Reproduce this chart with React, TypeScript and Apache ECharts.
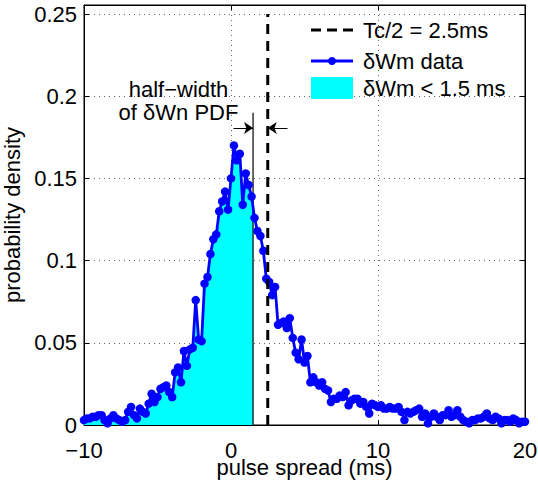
import React, { useEffect, useRef } from "react";
import * as echarts from "echarts";

// x grid of the PDF (ms): start and step of the sampled histogram
const X_START = -10;
const X_STEP = 0.2;
// δWm probability density values, one per bin
const PDF_VALUES = [
  0.003, 0.004, 0.004, 0.005, 0.005, 0.006, 0.006, 0.003, 0.001, 0.004,
  0.006, 0.004, 0.003, 0.002, 0.003, 0.008, 0.011, 0.006, 0.004, 0.010,
  0.008, 0.007, 0.013, 0.019, 0.014, 0.017, 0.022, 0.023, 0.024, 0.020,
  0.017, 0.032, 0.035, 0.026, 0.045, 0.036, 0.046, 0.047, 0.076, 0.052,
  0.051, 0.086, 0.090, 0.104, 0.113, 0.116, 0.130, 0.136, 0.142, 0.131,
  0.150, 0.170, 0.161, 0.165, 0.134, 0.153, 0.146, 0.139, 0.126, 0.118,
  0.115, 0.106, 0.089, 0.087, 0.079, 0.084, 0.061, 0.062, 0.063, 0.059,
  0.065, 0.053, 0.044, 0.040, 0.052, 0.038, 0.042, 0.026, 0.029, 0.026,
  0.024, 0.026, 0.022, 0.021, 0.014, 0.016, 0.016, 0.018, 0.017, 0.020,
  0.012, 0.015, 0.016, 0.016, 0.013, 0.014, 0.011, 0.007, 0.013, 0.012,
  0.011, 0.012, 0.010, 0.010, 0.011, 0.010, 0.010, 0.011, 0.008, 0.003,
  0.008, 0.007, 0.008, 0.009, 0.010, 0.005, 0.007, 0.001, 0.005, 0.007,
  0.005, 0.003, 0.006, 0.006, 0.009, 0.005, 0.006, 0.009, 0.005, 0.003,
  0.002, 0.001, 0.003, 0.003, 0.004, 0.004, 0.005, 0.007, 0.004, 0.003,
  0.005, 0.004, 0.001, 0.003, 0.003, 0.002, 0.004, 0.003, 0.001, 0.002,
  0.002,
];
const TC_HALF = 2.5; // dashed line position
const FILL_LIMIT = 1.5; // shaded region upper bound (half-width)
const HALFWIDTH_LINE_TOP = 0.19;
const DASH_TOP = 0.25;
const ARROW_Y = 0.1807;
const ARROW_LEFT_START = 0.17;
const ARROW_RIGHT_START = 3.84;
const ANNOT_X = -3.57;
const ANNOT_Y = 0.1968;
const ANNOT_TEXT = "half\u2212width\nof \u03b4Wn PDF";
const X_TICKS = [-10, 0, 10, 20];
const Y_MAX = 0.2555;
const X_NAME = "pulse spread (ms)";
const LEGEND_LABELS = ["Tc/2 = 2.5ms", "\u03b4Wm data", "\u03b4Wm < 1.5 ms"];

const FONT = "'Liberation Sans', Arial, Helvetica, sans-serif";

export default function App() {
  const ref = useRef<HTMLDivElement>(null);
  useEffect(() => {
    document.body.style.margin = "0";
    const chart = echarts.init(ref.current!, null, { renderer: "svg" });
    const pts: [number, number][] = PDF_VALUES.map((v, i) => [
      +(X_START + i * X_STEP).toFixed(4),
      v,
    ]);
    // shaded region up to FILL_LIMIT with its vertical edge
    const fill: [number, number][] = pts.filter((p) => p[0] <= FILL_LIMIT + 1e-9);
    const after = pts.find((p) => p[0] > FILL_LIMIT + 1e-9);
    const before = fill[fill.length - 1];
    if (after && before[0] < FILL_LIMIT) {
      const t = (FILL_LIMIT - before[0]) / (after[0] - before[0]);
      fill.push([FILL_LIMIT, before[1] + t * (after[1] - before[1])]);
    }

    const isTick = (v: number, step: number) =>
      Math.abs(v / step - Math.round(v / step)) < 1e-6;

    const option: any = {
      animation: false,
      backgroundColor: "#ffffff",
      textStyle: { fontFamily: FONT },
      grid: {
        left: 84,
        right: 13,
        top: 5,
        bottom: 58,
        show: true,
        borderColor: "#000",
        borderWidth: 1,
        containLabel: false,
        outerBoundsMode: "none",
      },
      xAxis: [
        {
          type: "value",
          min: X_TICKS[0],
          max: X_TICKS[X_TICKS.length - 1],
          interval: 10,
          axisLine: { show: true, onZero: false, lineStyle: { color: "#000", width: 1 } },
          axisTick: { show: true, inside: true, length: 5, lineStyle: { color: "#000" } },
          axisLabel: {
            fontSize: 22,
            lineHeight: 20,
            color: "#000",
            margin: 15,
            fontFamily: FONT,
            formatter: (v: number) => String(v).replace("-", "\u2212"),
          },
          splitLine: {
            show: true,
            lineStyle: { color: "#666", width: 1, type: [1, 4] },
          },
        },
        {
          type: "value",
          position: "top",
          min: X_TICKS[0],
          max: X_TICKS[X_TICKS.length - 1],
          interval: 10,
          axisLine: { show: true, onZero: false, lineStyle: { color: "#000" } },
          axisTick: { show: true, inside: true, length: 5, lineStyle: { color: "#000" } },
          axisLabel: { show: false },
          splitLine: { show: false },
        },
      ],
      yAxis: [
        {
          type: "value",
          min: 0,
          max: Y_MAX,
          interval: 0.05,
          name: "probability density",
          nameLocation: "middle",
          nameGap: 52,
          nameTextStyle: { fontSize: 22, color: "#000", fontFamily: FONT },
          axisLine: { show: true, onZero: false, lineStyle: { color: "#000", width: 1 } },
          axisTick: { show: true, inside: true, length: 5, lineStyle: { color: "#000" } },
          axisLabel: {
            fontSize: 22,
            lineHeight: 18,
            color: "#000",
            margin: 7,
            fontFamily: FONT,
            showMaxLabel: true,
            formatter: (v: number) => (isTick(v, 0.05) ? String(+v.toFixed(2)) : ""),
          },
          splitLine: {
            show: true,
            lineStyle: { color: "#666", width: 1, type: [1, 4] },
          },
        },
        {
          type: "value",
          position: "right",
          min: 0,
          max: Y_MAX,
          interval: 0.05,
          axisLine: { show: true, onZero: false, lineStyle: { color: "#000" } },
          axisTick: { show: true, inside: true, length: 5, lineStyle: { color: "#000" } },
          axisLabel: { show: false },
          splitLine: { show: false },
        },
      ],
      series: [
        {
          name: LEGEND_LABELS[2],
          type: "line",
          data: fill,
          symbol: "none",
          lineStyle: { width: 0 },
          areaStyle: { color: "#00ffff", opacity: 1 },
          z: 1,
        },
        {
          name: "halfwidth",
          type: "line",
          data: [
            [FILL_LIMIT, 0],
            [FILL_LIMIT, HALFWIDTH_LINE_TOP],
          ],
          symbol: "none",
          lineStyle: { color: "#000", width: 1.2 },
          z: 2,
        },
        {
          name: LEGEND_LABELS[1],
          type: "line",
          data: pts,
          symbol: "circle",
          symbolSize: 8.5,
          itemStyle: { color: "#0000ff" },
          lineStyle: { color: "#0000ff", width: 2.8 },
          z: 3,
        },
        {
          name: LEGEND_LABELS[0],
          type: "line",
          data: [
            [TC_HALF, 0],
            [TC_HALF, DASH_TOP],
          ],
          symbol: "none",
          lineStyle: { color: "#000", width: 3, type: [10, 7] },
          z: 4,
        },
        {
          name: "arrows",
          type: "lines",
          coordinateSystem: "cartesian2d",
          symbol: ["none", "arrow"],
          symbolSize: 9,
          lineStyle: { color: "#000", width: 1.2, opacity: 1 },
          data: [
            { coords: [[ARROW_LEFT_START, ARROW_Y], [FILL_LIMIT, ARROW_Y]] },
            { coords: [[ARROW_RIGHT_START, ARROW_Y], [TC_HALF, ARROW_Y]] },
          ],
          z: 5,
        },
      ],
    };
    chart.setOption(option);

    // annotation text placed at data coordinates
    const [ax, ay] = chart.convertToPixel({ xAxisIndex: 0, yAxisIndex: 0 }, [
      ANNOT_X,
      ANNOT_Y,
    ]) as number[];
    const annot = {
      type: "text",
      x: ax,
      y: ay,
      style: {
        text: ANNOT_TEXT,
        fontSize: 22,
        lineHeight: 23,
        fontFamily: FONT,
        fill: "#000",
        align: "center",
        verticalAlign: "middle",
      },
      z: 10,
    };

    // x-axis title, centred under the plot area
    const [xl] = chart.convertToPixel({ xAxisIndex: 0, yAxisIndex: 0 }, [
      X_TICKS[0],
      0,
    ]) as number[];
    const [xr, y0] = chart.convertToPixel({ xAxisIndex: 0, yAxisIndex: 0 }, [
      X_TICKS[X_TICKS.length - 1],
      0,
    ]) as number[];
    const xName = {
      type: "text",
      x: (xl + xr) / 2,
      y: y0 + 42,
      style: {
        text: X_NAME,
        fontSize: 22,
        fontFamily: FONT,
        fill: "#000",
        align: "center",
        verticalAlign: "middle",
      },
      z: 10,
    };

    // legend (box-less, MATLAB style)
    const lx0 = 311,
      lx1 = 353,
      tx = 363;
    const ly = [30, 61, 88];
    const legend: any[] = [
      {
        type: "line",
        shape: { x1: lx0, y1: ly[0], x2: lx1, y2: ly[0] },
        style: { stroke: "#000", lineWidth: 3, lineDash: [10, 6] },
      },
      {
        type: "line",
        shape: { x1: lx0, y1: ly[1], x2: lx1, y2: ly[1] },
        style: { stroke: "#0000ff", lineWidth: 2.8 },
      },
      {
        type: "circle",
        shape: { cx: (lx0 + lx1) / 2, cy: ly[1], r: 4 },
        style: { fill: "#0000ff" },
      },
      {
        type: "rect",
        shape: { x: lx0, y: ly[2] - 11, width: lx1 - lx0, height: 22 },
        style: { fill: "#00ffff" },
      },
      ...LEGEND_LABELS.map((t, i) => ({
        type: "text",
        x: tx,
        y: ly[i],
        style: {
          text: t,
          fontSize: 22,
          fontFamily: FONT,
          fill: "#000",
          align: "left",
          verticalAlign: "middle",
        },
      })),
    ].map((e) => ({ ...e, z: 10 }));

    chart.setOption({ graphic: [annot, xName, ...legend] });
    return () => chart.dispose();
  }, []);
  return (
    <div
      ref={ref}
      style={{ position: "fixed", left: 0, top: 0, width: 538, height: 483, background: "#fff" }}
    />
  );
}
